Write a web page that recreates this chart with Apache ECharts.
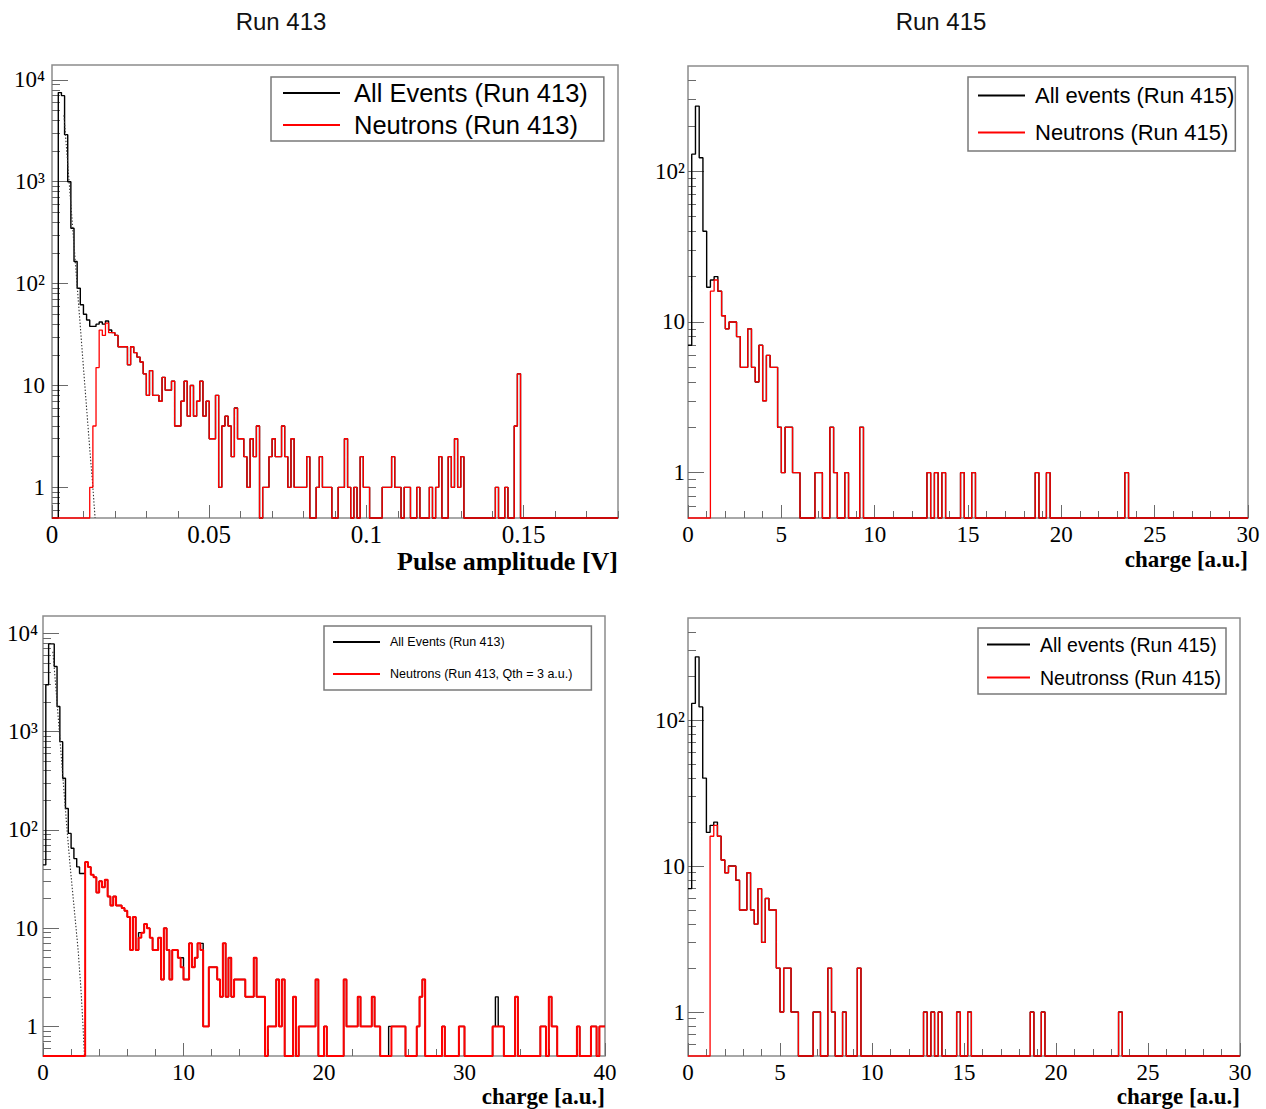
<!DOCTYPE html>
<html>
<head>
<meta charset="utf-8">
<title>Run 413 / Run 415</title>
<script src="https://cdn.jsdelivr.net/npm/echarts@6/dist/echarts.min.js"></script>
<style>
html,body{margin:0;padding:0;background:#ffffff;}
#chart{width:1266px;height:1109px;}
</style>
</head>
<body>
<div id="chart"></div>
<script>
// ================= DATA =================
// Panel 1 : Run 413, pulse amplitude [V], bins of 0.001 V
const run413AmpBinWidth = 0.001;
const run413AmpNeutrons = [
  0,0,0,0,0,0,0,0,0,0,
  0,0,1,4,15,35,31,41,33,33,
  31,24,24,24,16,24,21,19,17,13,
  8,14,8,8,7,12,9,9,11,4,
  4,7,11,5,10,5,7,11,5,7,
  3,3,8,1,4,5,4,2,6,3,
  3,2,1,3,2,4,0,1,1,2,
  3,2,2,4,2,1,3,1,1,1,
  1,2,0,0,1,2,1,1,1,0,
  0,1,1,3,1,0,1,0,2,1,
  1,0,0,0,0,1,1,1,2,1,
  1,0,1,1,0,0,1,0,0,0,
  1,0,1,2,0,0,2,1,3,1,
  2,0,0,0,0,0,0,0,0,0,
  0,1,0,0,1,0,0,4,13,0,
  0,0,0,0,0,0,0,0,0,0,
  0,0,0,0,0,0,0,0,0,0,
  0,0,0,0,0,0,0,0,0,0
];
// all events, first bins (above that they equal the neutron histogram)
const run413AmpAllLow = [0,0,7500,7000,2900,1000,350,165,90,62,50,44,38,38,40,42,40,43,35,33];
// dotted fit of the gamma peak
const run413AmpFitX = [0.0038,0.005,0.006,0.007,0.008,0.009,0.010,0.011,0.012,0.013,0.0137];
const run413AmpFitY = [4500,1500,600,240,95,38,15,6,2.4,1,0.5];

// Panels 2 and 4 : Run 415, charge [a.u.], bins of 0.2
const run415BinWidth = 0.2;
const run415Neutrons = [
  0,0,0,0,0,0,16,19,16,11,
  9,10,10,8,5,5,9,5,4,7,
  3,6,5,5,2,1,2,2,1,1,
  0,0,0,0,1,1,0,0,2,1,
  0,0,1,0,0,0,2,0,0,0,
  0,0,0,0,0,0,0,0,0,0,
  0,0,0,0,1,0,1,0,1,0,
  0,0,0,1,0,0,1,0,0,0,
  0,0,0,0,0,0,0,0,0,0,
  0,0,0,1,0,0,1,0,0,0,
  0,0,0,0,0,0,0,0,0,0,
  0,0,0,0,0,0,0,1,0,0,
  0,0,0,0,0,0,0,0,0,0,
  0,0,0,0,0,0,0,0,0,0,
  0,0,0,0,0,0,0,0,0,0
];
const run415AllLow = [7,130,271,123,40,17,19,20];

// Panel 3 : Run 413, charge [a.u.], bins of 0.2, Qth = 3
const run413QBinWidth = 0.2;
const run413QNeutrons = [
  0,0,0,0,0,0,0,0,0,0,
  0,0,0,0,0,47,42,35,33,23,
  30,26,31,21,17,21,17,17,16,15,
  13,6,13,6,8,9,11,10,8,6,
  6,8,3,10,6,3,6,6,5,4,
  3,3,7,4,5,7,6,1,1,4,
  4,4,3,2,7,2,5,2,3,3,
  3,3,2,2,2,5,2,2,2,0,
  1,1,1,3,1,3,0,0,0,2,
  0,1,1,1,1,1,1,3,0,0,
  1,0,0,0,0,0,0,3,1,1,
  1,1,2,1,1,1,1,2,1,1,
  0,0,0,0,1,1,1,1,1,0,
  0,0,0,1,2,3,0,0,0,0,
  0,0,1,0,0,0,0,0,1,1,
  0,0,0,0,0,0,0,0,0,0,
  1,1,1,1,0,0,0,0,2,0,
  0,0,0,0,0,0,0,1,1,0,
  2,1,1,0,0,0,0,0,0,0,
  1,0,0,0,0,1,1,0,1,1
];
const run413QAllLow = [44,3000,7800,7800,4600,1800,790,335,165,92,65,51,42,36,36];
const run413QAllDiffBins = [34,49,56,123,161];
const run413QAllDiffVals = [9,5,7,1,2];
const run413QFitX = [0.7,0.9,1.1,1.3,1.5,1.7,1.9,2.1,2.3,2.5,2.7,2.85,2.95];
const run413QFitY = [6500,3000,1300,560,240,105,48,24,12,6,2.4,1,0.5];

// Tick label values
const logMajorTicks = [1,10,100,1000,10000];
const logMinorMultipliers = [2,3,4,5,6,7,8,9];

// ================= BUILD =================
const SERIF = '"Liberation Serif","Times New Roman",serif';
const SANS = '"Liberation Sans",Arial,sans-serif';
const FRAME = '#8c8c8c';
const TICK = '#6a6a6a';
const SUP = {2:'\u00b2',3:'\u00b3',4:'\u2074'};

function logLabel(v){
  if (Math.abs(v-1) < 1e-9) return '1';
  if (Math.abs(v-10) < 1e-9) return '10';
  return '10' + SUP[Math.round(Math.log10(v))];
}
function minorLogValues(min,max){
  const out=[];
  for (let d=-1; d<=5; d++) for (const m of logMinorMultipliers){
    const v = +(m*Math.pow(10,d)).toPrecision(3);
    if (v > min*1.0001 && v < max) out.push(v);
  }
  return out;
}
function mergeAll(low, neutrons, diffBins, diffVals){
  const out = neutrons.slice();
  low.forEach((v,i)=>{ out[i]=v; });
  (diffBins||[]).forEach((b,k)=>{ out[b]=diffVals[k]; });
  return out;
}
function stepPoints(counts, bw, floor){
  const pts = counts.map((c,i)=>[+(i*bw).toFixed(6), c>0?c:floor]);
  const last = counts[counts.length-1];
  pts.push([+(counts.length*bw).toFixed(6), last>0?last:floor]);
  return pts;
}

const W = 1266;
const panels = [
  { grid:{left:52, top:65, width:566, height:453}, xMax:0.18, xMajor:0.05, xMinor:0.01,
    yMin:0.5, yMax:14000, xLabelSize:25, nameSize:26, name:'Pulse amplitude [V]', yMargin:7, nameTop:548, hideMax:true,
    bw:run413AmpBinWidth, all:mergeAll(run413AmpAllLow, run413AmpNeutrons), neut:run413AmpNeutrons,
    allName:'All Events (Run 413)', neutName:'Neutrons (Run 413)', fitX:run413AmpFitX, fitY:run413AmpFitY, redW:1.3 },
  { grid:{left:688, top:66, width:560, height:452}, xMax:30, xMajor:5, xMinor:1,
    yMin:0.5, yMax:500, xLabelSize:23, nameSize:23, name:'charge [a.u.]', yMargin:3, nameTop:548, hideMax:false,
    bw:run415BinWidth, all:mergeAll(run415AllLow, run415Neutrons), neut:run415Neutrons,
    allName:'All events (Run 415)', neutName:'Neutrons (Run 415)', redW:1.3 },
  { grid:{left:43, top:616, width:562, height:440}, xMax:40, xMajor:10, xMinor:2,
    yMin:0.5, yMax:15000, xLabelSize:23, nameSize:23, name:'charge [a.u.]', yMargin:5, nameTop:1085, hideMax:false,
    bw:run413QBinWidth, all:mergeAll(run413QAllLow, run413QNeutrons, run413QAllDiffBins, run413QAllDiffVals), neut:run413QNeutrons,
    allName:'All Events (Run 413)', neutName:'Neutrons (Run 413, Qth = 3 a.u.)', fitX:run413QFitX, fitY:run413QFitY, redW:2 },
  { grid:{left:688, top:618, width:552, height:438}, xMax:30, xMajor:5, xMinor:1,
    yMin:0.5, yMax:500, xLabelSize:23, nameSize:23, name:'charge [a.u.]', yMargin:3, nameTop:1085, hideMax:false,
    bw:run415BinWidth, all:mergeAll(run415AllLow, run415Neutrons), neut:run415Neutrons,
    allName:'All events (Run 415)', neutName:'Neutronss (Run 415)', redW:1.3 }
];

const grid=[], xAxis=[], yAxis=[], series=[], graphic=[];
panels.forEach((p, idx)=>{
  grid.push(Object.assign({show:true, borderColor:FRAME, borderWidth:1.5, backgroundColor:'rgba(0,0,0,0)',
    containLabel:false, outerBoundsMode:'none'}, p.grid));
  xAxis.push({type:'value', gridIndex:idx, position:'bottom', min:0, max:p.xMax, interval:p.xMajor,
    axisLine:{show:false}, splitLine:{show:false},
    axisTick:{show:true, inside:true, length:13, lineStyle:{color:TICK, width:1}},
    axisLabel:{fontFamily:SERIF, fontSize:p.xLabelSize, lineHeight:Math.round(p.xLabelSize*0.85),
      color:'#000', margin:6, showMaxLabel:!p.hideMax}});
  xAxis.push({type:'value', gridIndex:idx, position:'bottom', min:0, max:p.xMax, interval:p.xMinor,
    axisLine:{show:false}, splitLine:{show:false}, axisLabel:{show:false},
    axisTick:{show:true, inside:true, length:7, lineStyle:{color:TICK, width:1}}});
  const majors = logMajorTicks.filter(v=>v>=p.yMin && v<=p.yMax);
  yAxis.push({type:'log', logBase:10, gridIndex:idx, position:'left', min:p.yMin, max:p.yMax,
    axisLine:{show:false}, splitLine:{show:false},
    axisTick:{show:true, inside:true, length:16, customValues:majors, lineStyle:{color:TICK, width:1}},
    axisLabel:{customValues:majors, formatter:logLabel, fontFamily:SERIF, fontSize:23, color:'#000', margin:p.yMargin}});
  yAxis.push({type:'log', logBase:10, gridIndex:idx, position:'left', min:p.yMin, max:p.yMax,
    axisLine:{show:false}, splitLine:{show:false}, axisLabel:{show:false},
    axisTick:{show:true, inside:true, length:8, customValues:minorLogValues(p.yMin,p.yMax), lineStyle:{color:TICK, width:1}}});

  // x-axis title, right-aligned under the frame like ROOT
  graphic.push({type:'text', right: W - (p.grid.left + p.grid.width), top: p.nameTop, silent:true,
    style:{text:p.name, fill:'#000', font:'bold ' + p.nameSize + 'px ' + SERIF,
      lineHeight:Math.round(p.nameSize*0.85)}});

  const common = {type:'line', xAxisIndex:2*idx, yAxisIndex:2*idx, step:'end', symbol:'none',
    clip:false, silent:true, animation:false};
  series.push(Object.assign({}, common, {name:p.allName, data:stepPoints(p.all, p.bw, p.yMin),
    color:'#000', lineStyle:{color:'#000', width:1.4}, z:2}));
  if (p.fitX){
    series.push({type:'line', name:'fit'+idx, xAxisIndex:2*idx, yAxisIndex:2*idx, symbol:'none', clip:false,
      silent:true, animation:false, data:p.fitX.map((x,i)=>[x, p.fitY[i]]),
      lineStyle:{color:'#333', width:1.1, type:[1.4,1.8]}, z:3});
  }
  series.push(Object.assign({}, common, {name:p.neutName, data:stepPoints(p.neut, p.bw, p.yMin),
    color:'#ff0000', lineStyle:{color:'#ff0000', width:p.redW}, z:4}));
});

const legendBase = {orient:'vertical', icon:'rect', itemHeight:2, itemGap:0, selectedMode:false,
  borderColor:'#7a7a7a', borderWidth:1.5, backgroundColor:'#ffffff', itemStyle:{borderWidth:0}};
const legend = [
  Object.assign({}, legendBase, {data:[panels[0].allName, panels[0].neutName], left:271, top:77, itemWidth:57,
    padding:[0,16,0,12], textStyle:{fontFamily:SANS, fontSize:25.5, lineHeight:32, color:'#000', padding:[0,0,0,9]}}),
  Object.assign({}, legendBase, {data:[panels[1].allName, panels[1].neutName], left:968, top:77, itemWidth:47,
    padding:[0,1,0,10], textStyle:{fontFamily:SANS, fontSize:22, lineHeight:37, color:'#000', padding:[0,0,0,5]}}),
  Object.assign({}, legendBase, {data:[panels[2].allName, panels[2].neutName], left:324, top:626, itemWidth:47,
    padding:[0,19,0,9], textStyle:{fontFamily:SANS, fontSize:12.5, lineHeight:32, color:'#000', padding:[0,0,0,5]}}),
  Object.assign({}, legendBase, {data:[panels[3].allName, panels[3].neutName], left:978, top:628, itemWidth:43,
    padding:[0,5,0,9], textStyle:{fontFamily:SANS, fontSize:19.5, lineHeight:33, color:'#000', padding:[0,0,0,5]}})
];

const title = [
  {text:'Run 413', left:281, top:9, textAlign:'center', padding:0,
    textStyle:{fontFamily:SANS, fontSize:24, fontWeight:'normal', color:'#111'}},
  {text:'Run 415', left:941, top:9, textAlign:'center', padding:0,
    textStyle:{fontFamily:SANS, fontSize:24, fontWeight:'normal', color:'#111'}}
];

const chart = echarts.init(document.getElementById('chart'), null, {renderer:'svg', width:1266, height:1109});
chart.setOption({animation:false, backgroundColor:'#ffffff', title, legend, grid, xAxis, yAxis, series, graphic});
</script>
</body>
</html>
